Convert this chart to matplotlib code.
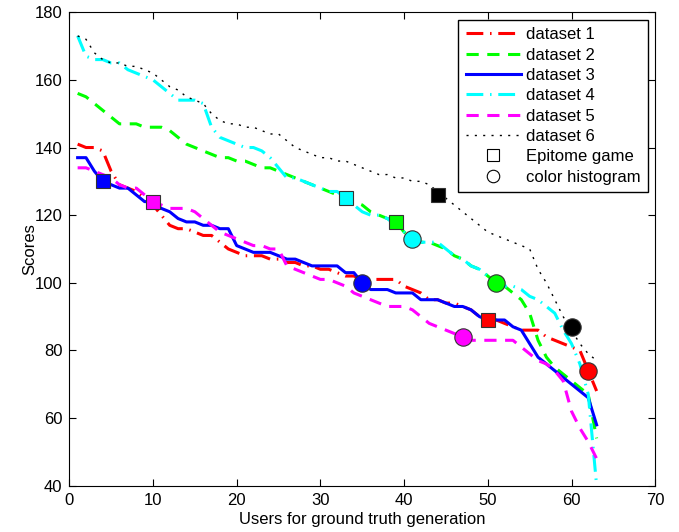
import matplotlib
matplotlib.use("Agg")
import matplotlib.pyplot as plt
import numpy as np

plt.rcParams['font.family'] = ['Liberation Sans', 'DejaVu Sans']

users = np.arange(1, 64)

dataset1 = [141, 140, 140, 139, 133, 129, 128, 127, 125, 123, 120, 117, 116, 116, 115, 114,
            114, 112, 110, 109, 108, 108, 108, 107, 107, 106, 106, 105, 105, 104, 104, 103,
            102, 102, 101, 101, 101, 101, 101, 99, 98, 97, 95, 95, 94, 94, 93, 92, 90, 89,
            89, 88, 87, 86, 86, 86, 84, 83, 82, 81, 80, 74, 68]
dataset2 = [156, 155, 153, 151, 149, 147, 147, 147, 146, 146, 146, 145, 143, 141, 140, 139,
            138, 137, 137, 136, 136, 135, 134, 134, 133, 132, 131, 130, 129, 128, 127, 126,
            125, 124, 123, 121, 120, 119, 118, 115, 113, 112, 112, 111, 110, 108, 107, 105,
            104, 102, 100, 99, 97, 95, 91, 83, 78, 75, 73, 71, 69, 67, 54]
dataset3 = [137, 137, 133, 130, 129, 128, 128, 126, 124, 124, 122, 121, 119, 118, 118, 117,
            117, 116, 116, 111, 110, 109, 109, 109, 108, 107, 107, 106, 105, 105, 105, 105,
            103, 103, 100, 98, 98, 98, 97, 97, 97, 95, 95, 95, 94, 93, 93, 92, 90, 89, 89,
            89, 87, 86, 82, 78, 76, 74, 72, 70, 68, 66, 58]
dataset4 = [173, 167, 166, 166, 165, 165, 163, 162, 161, 160, 158, 156, 154, 154, 154, 153,
            146, 143, 142, 141, 140, 140, 139, 137, 134, 131, 131, 130, 129, 128, 127, 127,
            125, 123, 121, 120, 120, 119, 117, 115, 113, 112, 112, 112, 110, 108, 107, 105,
            104, 102, 100, 99, 99, 98, 96, 95, 93, 91, 86, 82, 76, 67, 40]
dataset5 = [134, 134, 133, 132, 131, 129, 128, 128, 126, 124, 123, 122, 122, 122, 121, 119,
            117, 115, 114, 113, 112, 111, 111, 110, 110, 105, 104, 103, 102, 101, 101, 100,
            99, 97, 96, 95, 94, 93, 93, 93, 92, 90, 88, 87, 86, 85, 84, 83, 83, 83, 83, 83,
            83, 81, 79, 77, 76, 74, 71, 62, 57, 53, 48]
dataset6 = [173, 172, 168, 166, 165, 165, 164, 164, 163, 162, 160, 158, 157, 155, 154, 153,
            150, 148, 147, 147, 146, 146, 145, 144, 144, 142, 140, 139, 138, 137, 137, 136,
            136, 135, 134, 133, 132, 132, 131, 131, 130, 130, 129, 127, 125, 123, 121, 119,
            117, 115, 114, 113, 112, 111, 110, 104, 100, 95, 90, 86, 82, 79, 77]

# marker points (one per dataset, in dataset order)
epitome_x = [50, 39, 4, 33, 10, 44]
epitome_y = [89, 118, 130, 125, 124, 126]
hist_x = [62, 51, 35, 41, 47, 60]
hist_y = [74, 100, 100, 113, 84, 87]

colors = ['#ff0000', '#00ff00', '#0000ff', '#00ffff', '#ff00ff', '#000000']
# matlab-ish dash patterns
dashdot = (0, (5.5, 2.2, 0.5, 2.2))
dashed = (0, (4, 2.8))
styles = [dashdot, dashed, '-', dashdot, dashed, (0, (1.5, 4.5))]
widths = [2.2, 2.2, 2.2, 2.2, 2.2, 1.0]
labels = ['dataset 1', 'dataset 2', 'dataset 3', 'dataset 4', 'dataset 5', 'dataset 6']

fig = plt.figure(figsize=(6.79, 5.32), dpi=100)
ax = fig.add_axes([0.102, 0.087, 0.863, 0.890])

all_data = [dataset1, dataset2, dataset3, dataset4, dataset5, dataset6]
for d, c, s, w, l in zip(all_data, colors, styles, widths, labels):
    ax.plot(users, d, color=c, linestyle=s, linewidth=w, label=l)

for i in range(6):
    ax.plot(epitome_x[i], epitome_y[i], 's', color=colors[i], markersize=10,
            markeredgecolor='#333333', markeredgewidth=0.8)
    ax.plot(hist_x[i], hist_y[i], 'o', color=colors[i], markersize=12.5,
            markeredgecolor='#333333', markeredgewidth=0.8)

ax.plot([], [], 's', markerfacecolor='white', markeredgecolor='black',
        markersize=8, markeredgewidth=0.8, label='Epitome game')
ax.plot([], [], 'o', markerfacecolor='white', markeredgecolor='black',
        markersize=9, markeredgewidth=0.8, label='color histogram')

ax.set_xlim(0, 70)
ax.set_ylim(40, 180)
ax.set_xticks(range(0, 71, 10))
ax.set_yticks(range(40, 181, 20))
ax.tick_params(direction='in', top=True, right=True, labelsize=12, length=5, pad=5)
ax.set_xlabel('Users for ground truth generation', fontsize=12, labelpad=3)
ax.set_ylabel('Scores', fontsize=12, labelpad=-2)

leg = ax.legend(loc='upper right', fontsize=12, handlelength=3.3, fancybox=False,
                framealpha=1, edgecolor='black', borderaxespad=0.45,
                labelspacing=0.32, borderpad=0.45, handletextpad=0.3)
leg.get_frame().set_linewidth(1.0)

fig.savefig('out.png', dpi=100)
